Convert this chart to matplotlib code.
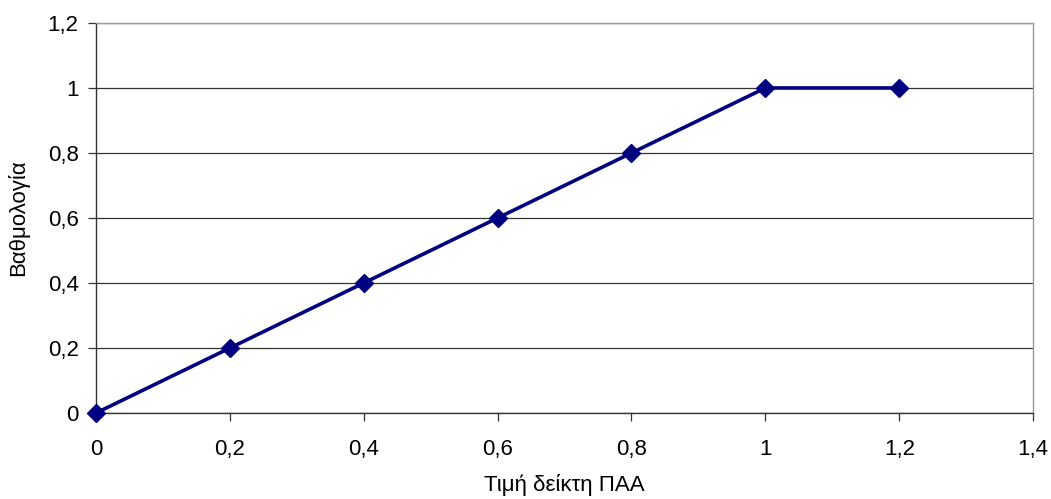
import matplotlib
matplotlib.use("Agg")
import matplotlib.pyplot as plt
from matplotlib.ticker import MultipleLocator, FuncFormatter

# data
paa_values = [0, 0.2, 0.4, 0.6, 0.8, 1.0, 1.2]
scores = [0, 0.2, 0.4, 0.6, 0.8, 1.0, 1.0]

plt.rcParams['font.family'] = ['Liberation Sans', 'DejaVu Sans']

fig = plt.figure(figsize=(10.51, 4.99), dpi=100)
ax = fig.add_axes([0.0913, 0.1723, 0.8917, 0.7817])

ax.plot(paa_values, scores, color='#000080', linewidth=2.6, marker='D',
        markersize=9.5, markerfacecolor='#000080', markeredgecolor='#000080',
        clip_on=False, zorder=3)

ax.set_xlim(0, 1.4)
ax.set_ylim(0, 1.2)
ax.xaxis.set_major_locator(MultipleLocator(0.2))
ax.yaxis.set_major_locator(MultipleLocator(0.2))

comma = FuncFormatter(lambda v, p: ('%g' % round(v, 2)).replace('.', ','))
ax.xaxis.set_major_formatter(comma)
ax.yaxis.set_major_formatter(comma)

ax.grid(axis='y', color='#333333', linewidth=0.9)
ax.set_axisbelow(True)

for side in ['top', 'right']:
    ax.spines[side].set_color('#999999')
for side in ['left', 'bottom']:
    ax.spines[side].set_color('#333333')
for s in ax.spines.values():
    s.set_linewidth(1.0)

ax.tick_params(axis='both', direction='out', length=5.5, width=0.9,
               color='#333333', labelsize=16)
ax.tick_params(axis='x', pad=13)
ax.tick_params(axis='y', pad=7)

ax.set_xlabel('Τιμή δείκτη ΠΑΑ', fontsize=16, labelpad=10)
ax.set_ylabel('Βαθμολογία', fontsize=16, labelpad=13)

fig.savefig('out.png', dpi=100)
